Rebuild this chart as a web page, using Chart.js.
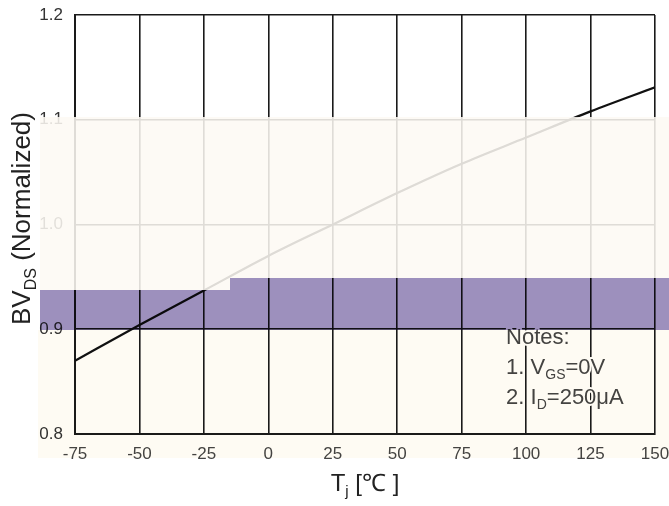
<!DOCTYPE html>
<html><head><meta charset="utf-8">
<script src="https://cdn.jsdelivr.net/npm/chart.js@4.4.1/dist/chart.umd.min.js"></script>
<style>html,body{margin:0;padding:0;background:#fff}#wrap{width:669px;height:506px}</style>
</head><body><div id="wrap"><canvas id="c" width="669" height="506"></canvas></div>
<script>
const tempC  = [-75, -50, -25, 0, 25, 50, 75, 100, 125, 150];
const bvNorm = [0.870, 0.904, 0.937, 0.970, 1.000, 1.030, 1.058, 1.083, 1.108, 1.131];
const xTicks = [-75, -50, -25, 0, 25, 50, 75, 100, 125, 150];
const yTicks = [0.8, 0.9, 1.0, 1.1, 1.2];
// notes: each line = list of [text, isSubscript]
const noteLines = [
  [['Notes:', 0]],
  [['1. V', 0], ['GS', 1], ['=0V', 0]],
  [['2. I', 0], ['D', 1], ['=250μA', 0]]
];
const xTitle = [['T', 0], ['j', 1], [' [℃ ]', 0]];
const yTitle = [['BV', 0], ['DS', 1], [' (Normalized)', 0]];

const FONT = '"Liberation Sans", Arial, sans-serif';
const INK = '#1a1a1a';

function drawRich(ctx, parts, x, y, size, subSize, align){
  let w = 0;
  parts.forEach(([t,s])=>{ ctx.font=(s?subSize:size)+'px '+FONT; w += ctx.measureText(t).width; });
  let cx = align==='center' ? x - w/2 : x;
  ctx.textBaseline = 'middle'; ctx.textAlign = 'left';
  parts.forEach(([t,s])=>{
    ctx.font=(s?subSize:size)+'px '+FONT;
    const yy = s ? y + size*0.32 : y;
    if(ctx.lineWidth > 1) ctx.strokeText(t, cx, yy);
    ctx.fillText(t, cx, yy);
    cx += ctx.measureText(t).width;
  });
}

const extras = {
  id:'extras',
  afterDatasetsDraw(chart){
    const ctx = chart.ctx, xs = chart.scales.x, ys = chart.scales.y;
    ctx.save();
    // notes text, white halo breaks the grid lines behind it
    const nx = xs.getPixelForValue(100) - 20;
    let ny = ys.getPixelForValue(0.9) + 9;
    ctx.strokeStyle = '#fff'; ctx.lineWidth = 4; ctx.lineJoin='round';
    ctx.fillStyle = '#444';
    noteLines.forEach(line=>{ drawRich(ctx, line, nx, ny, 22, 14, 'left'); ny += 30; });
    ctx.restore();
  },
  afterDraw(chart){
    const ctx = chart.ctx, a = chart.chartArea;
    ctx.save();
    ctx.fillStyle = '#222'; ctx.lineWidth = 1;
    drawRich(ctx, xTitle, (a.left+a.right)/2, 484, 24, 15, 'center');
    ctx.translate(23, (a.top+a.bottom)/2 - 6);
    ctx.rotate(-Math.PI/2);
    drawRich(ctx, yTitle, 0, 0, 26, 16, 'center');
    ctx.restore();

    // tinted bands seen on the reference picture
    ctx.save();
    ctx.fillStyle = 'rgba(253,249,244,0.87)';
    ctx.fillRect(40, 117, 629, 161);
    ctx.fillRect(40, 278, 190, 12);
    ctx.globalCompositeOperation = 'multiply';
    ctx.fillStyle = '#9d90bd';
    ctx.fillRect(230, 278, 439, 12);
    ctx.fillRect(40, 290, 629, 40);
    ctx.fillStyle = '#fefbf3';
    ctx.fillRect(38, 330, 631, 128);
    ctx.restore();
  }
};

new Chart(document.getElementById('c'), {
  type:'line',
  data:{ datasets:[{ data: tempC.map((t,i)=>({x:t, y:bvNorm[i]})), borderColor:'#111', borderWidth:2.2,
    pointRadius:0, cubicInterpolationMode:'monotone', fill:false }] },
  options:{
    responsive:false, animation:false, devicePixelRatio:1,
    layout:{ padding:0 },
    plugins:{ legend:{display:false}, tooltip:{enabled:false} },
    scales:{
      x:{ type:'linear', min:-75, max:150,
        afterBuildTicks(s){ s.ticks = xTicks.map(v=>({value:v})); },
        afterFit(s){ s.height = 72; s.paddingLeft = 0; s.paddingRight = 14; },
        grid:{ color:INK, lineWidth:1.6, drawTicks:false },
        border:{ color:INK, width:2 },
        ticks:{ padding:10, color:'#444', font:{ family:FONT, size:17 }, callback:v=>String(v) } },
      y:{ min:0.8, max:1.2,
        afterBuildTicks(s){ s.ticks = yTicks.map(v=>({value:v})); },
        afterFit(s){ s.width = 75; s.paddingTop = 15; s.paddingBottom = 0; },
        grid:{ color:INK, lineWidth:1.6, drawTicks:false },
        border:{ color:INK, width:2 },
        ticks:{ padding:12, color:'#333', font:{ family:FONT, size:17 }, callback:v=>Number(v).toFixed(1) } }
    }
  },
  plugins:[extras]
});
</script></body></html>
